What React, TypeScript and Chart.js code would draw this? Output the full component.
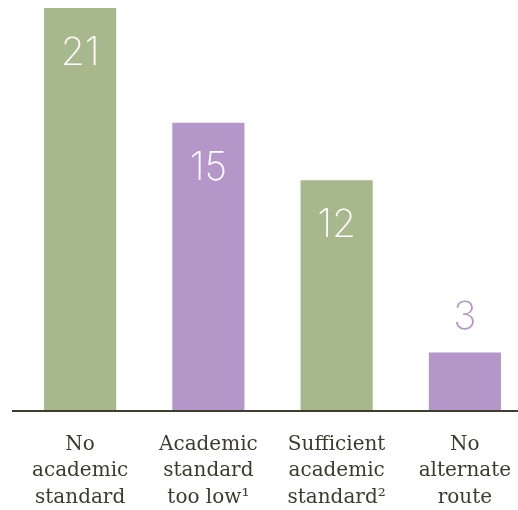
import React, { useEffect, useRef } from "react";
import { Chart, registerables } from "chart.js";

Chart.register(...registerables);

const categories: string[][] = [
  ["No", "academic", "standard"],
  ["Academic", "standard", "too low¹"],
  ["Sufficient", "academic", "standard²"],
  ["No", "alternate", "route"],
];
const values: number[] = [21, 15, 12, 3];
const barColors: string[] = ["#a7b88d", "#b496c8", "#a7b88d", "#b496c8"];
const labelColorsOutside: string[] = ["#a7b88d", "#b496c8", "#a7b88d", "#b496c8"];

const valueLabelPlugin = {
  id: "valueLabels",
  afterDatasetsDraw(chart: any) {
    const ctx = chart.ctx;
    const meta = chart.getDatasetMeta(0);
    ctx.save();
    ctx.font = "200 39px Inter, 'Open Sans', sans-serif";
    ctx.textAlign = "center";
    ctx.textBaseline = "middle";
    meta.data.forEach((bar: any, i: number) => {
      const v = values[i];
      if (v >= 5) {
        ctx.fillStyle = "#ffffff";
        ctx.fillText(String(v), bar.x, bar.y + 45);
      } else {
        ctx.fillStyle = labelColorsOutside[i];
        ctx.fillText(String(v), bar.x, bar.y - 35);
      }
    });
    ctx.restore();
  },
};

const baselinePlugin = {
  id: "baseline",
  afterDatasetsDraw(chart: any) {
    const ctx = chart.ctx;
    const y = chart.scales.y.getPixelForValue(0) + 1;
    ctx.save();
    ctx.strokeStyle = "#3e3e30";
    ctx.lineWidth = 2;
    ctx.beginPath();
    ctx.moveTo(12, y);
    ctx.lineTo(chart.chartArea.right + 20, y);
    ctx.stroke();
    ctx.restore();
  },
};

export default function App() {
  const ref = useRef<HTMLCanvasElement | null>(null);
  useEffect(() => {
    if (!ref.current) return;
    const chart = new Chart(ref.current, {
      type: "bar",
      data: {
        labels: categories,
        datasets: [
          {
            data: values,
            backgroundColor: barColors,
            borderWidth: 0,
            barPercentage: 0.75,
            categoryPercentage: 0.75,
          },
        ],
      },
      options: {
        animation: false,
        responsive: true,
        maintainAspectRatio: false,
        layout: { padding: { top: 8, left: 16, right: 11, bottom: 0 } },
        plugins: { legend: { display: false }, tooltip: { enabled: false } },
        scales: {
          x: {
            grid: { display: false },
            border: { display: false },
            ticks: {
              color: "#3b3b2e",
              padding: 13,
              maxRotation: 0,
              autoSkip: false,
              font: { family: "DejaVu Serif", size: 20, lineHeight: 1.33 },
            },
            afterFit: (s: any) => {
              s.height = 100;
            },
          },
          y: {
            display: false,
            min: 0,
            max: 21,
          },
        },
      },
      plugins: [valueLabelPlugin, baselinePlugin],
    });
    return () => chart.destroy();
  }, []);
  return (
    <div
      style={{
        position: "absolute",
        left: 0,
        top: 0,
        width: 518,
        height: 510,
        overflow: "hidden",
        background: "#ffffff",
      }}
    >
      <div style={{ position: "relative", width: 540, height: 510 }}>
        <canvas ref={ref} />
      </div>
    </div>
  );
}
